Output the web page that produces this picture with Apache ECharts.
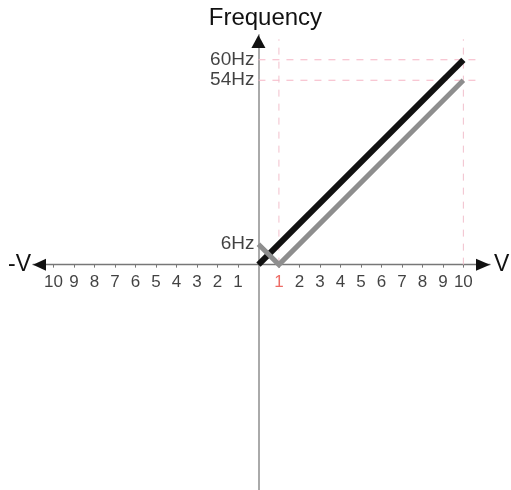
<!DOCTYPE html>
<html>
<head>
<meta charset="utf-8">
<style>
html,body{margin:0;padding:0;background:#fff;}
#c{width:511px;height:490px;}
</style>
<script src="https://cdn.jsdelivr.net/npm/echarts@6/dist/echarts.min.js"></script>
</head>
<body>
<div id="c"></div>
<script>
// ---- data ----
var xTickValues = [-10,-9,-8,-7,-6,-5,-4,-3,-2,-1,1,2,3,4,5,6,7,8,9,10];
var yTickValues = [6, 54, 60];
var blackLine = [[0, 0], [10, 60]];
var grayLine = [[0, 6], [1, 0], [10, 54]];
var hGuideValues = [60, 54];
var vGuideValues = [1, 10];
var guideExtentX = 10.8;
var guideTopY = 66;
var xMin = -11, xMax = 11.3, yMin = -66, yMax = 67.25;

var FONT = 'Liberation Sans, Arial, sans-serif';
var chart = echarts.init(document.getElementById('c'));

var guideSeries = [];
hGuideValues.forEach(function (v) {
  guideSeries.push({
    type: 'line', symbol: 'none', silent: true, z: 1,
    data: [[0, v], [guideExtentX, v]],
    lineStyle: { color: '#f6b4c4', width: 1, type: [7, 7] }
  });
});
vGuideValues.forEach(function (v) {
  guideSeries.push({
    type: 'line', symbol: 'none', silent: true, z: 1,
    data: [[v, 0], [v, guideTopY]],
    lineStyle: { color: '#f2c0cc', width: 1, type: [7, 7] }
  });
});

var option = {
  animation: false,
  backgroundColor: '#fff',
  grid: { left: 33, right: 21, top: 35, bottom: 0, containLabel: false, outerBoundsMode: 'none' },
  xAxis: {
    type: 'value', min: xMin, max: xMax,
    name: 'V', nameLocation: 'end', nameGap: 4,
    nameTextStyle: { fontSize: 23, color: '#111', fontFamily: FONT, verticalAlign: 'middle' },
    axisLine: { onZero: true, lineStyle: { color: '#777', width: 1.3 } },
    axisTick: { show: true, customValues: xTickValues, length: 3, lineStyle: { color: '#777' } },
    axisLabel: { show: false },
    splitLine: { show: false }
  },
  yAxis: {
    type: 'value', min: yMin, max: yMax,
    name: 'Frequency', nameLocation: 'end', nameGap: 5,
    nameTextStyle: { fontSize: 24, color: '#111', fontFamily: FONT, padding: [0, 0, 0, 14] },
    axisLine: { onZero: true, lineStyle: { color: '#aaa', width: 2 } },
    axisTick: { show: false },
    axisLabel: { show: false },
    splitLine: { show: false }
  },
  series: guideSeries.concat([
    {
      type: 'line', symbol: 'none', z: 3, data: blackLine,
      lineStyle: { color: '#111', width: 6, cap: 'butt' }
    },
    {
      type: 'line', symbol: 'none', z: 4, data: grayLine,
      lineStyle: { color: '#8e8e8e', width: 5, cap: 'butt', join: 'miter' }
    },
    {
      type: 'scatter', symbolSize: 0, silent: true, z: 5,
      data: xTickValues.map(function (v) { return [v, 0]; }),
      label: {
        show: true, position: 'bottom', distance: 9, fontSize: 17, fontFamily: FONT, color: '#111',
        formatter: function (p) {
          var v = p.value[0];
          return v === 1 ? '{r|1}' : String(Math.abs(v));
        },
        rich: { r: { color: '#e8463e', fontSize: 17, fontFamily: FONT } }
      }
    },
    {
      type: 'scatter', symbolSize: 0, silent: true, z: 5,
      data: yTickValues.map(function (v) { return [0, v]; }),
      label: {
        show: true, position: 'left', distance: 4, fontSize: 19, fontFamily: FONT, color: '#111',
        formatter: function (p) { return p.value[1] + 'Hz'; }
      }
    }
  ])
};
chart.setOption(option);

// arrowheads and "-V" via the axes' own coordinate conversion
var pR = chart.convertToPixel({ gridIndex: 0 }, [xMax, 0]);
var pL = chart.convertToPixel({ gridIndex: 0 }, [xMin, 0]);
var pT = chart.convertToPixel({ gridIndex: 0 }, [0, yMax]);
chart.setOption({
  graphic: [
    { type: 'polygon', z: 10, shape: { points: [[pR[0], pR[1]], [pR[0] - 14, pR[1] - 6], [pR[0] - 14, pR[1] + 6]] }, style: { fill: '#111' } },
    { type: 'polygon', z: 10, shape: { points: [[pL[0], pL[1]], [pL[0] + 13, pL[1] - 6], [pL[0] + 13, pL[1] + 6]] }, style: { fill: '#111' } },
    { type: 'polygon', z: 10, shape: { points: [[pT[0], pT[1]], [pT[0] - 7, pT[1] + 13], [pT[0] + 7, pT[1] + 13]] }, style: { fill: '#111' } },
    { type: 'text', z: 10, x: pL[0] - 2, y: pL[1], style: { text: '-V', fontSize: 23, fill: '#111', fontFamily: FONT, align: 'right', verticalAlign: 'middle' } }
  ]
});
</script>
</body>
</html>
